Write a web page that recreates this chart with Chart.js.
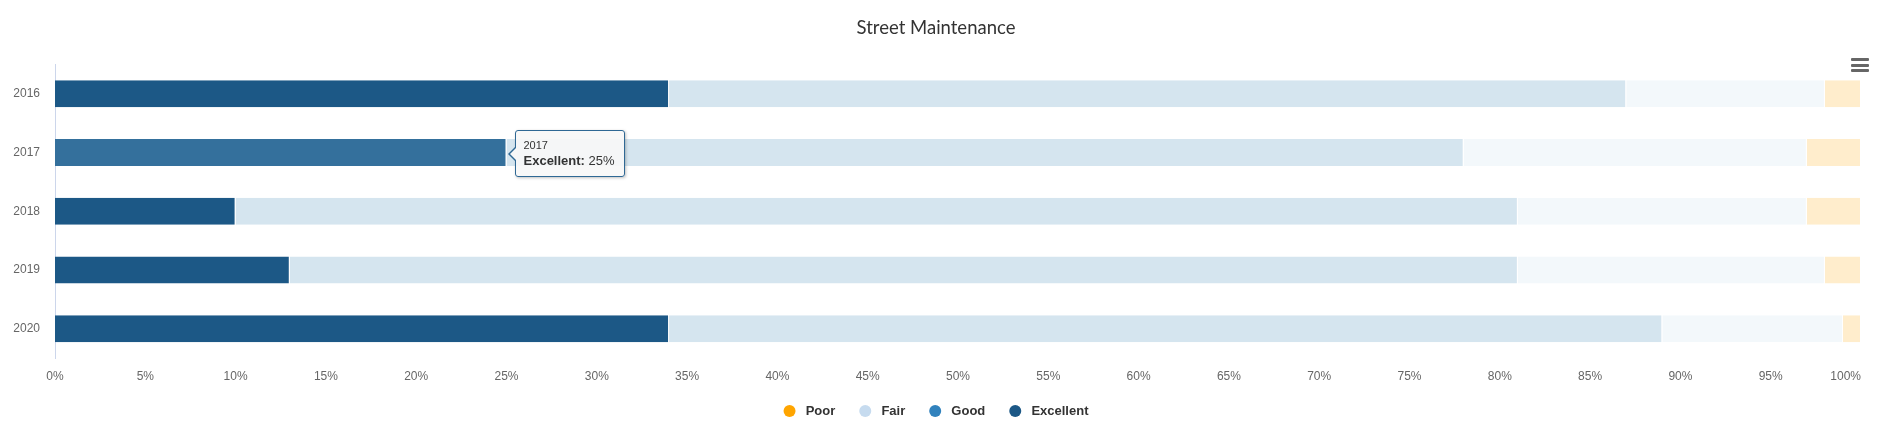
<!DOCTYPE html>
<html>
<head>
<meta charset="utf-8">
<script src="https://cdn.jsdelivr.net/npm/chart.js@4/dist/chart.umd.min.js"></script>
<style>
  body { margin: 0; background: #fff; }
  #wrap { position: relative; width: 1884px; height: 444px; }
  #menu { position: absolute; left: 1851px; top: 58px; width: 18px; }
  #menu span { display: block; height: 3px; margin-bottom: 2.6px; background: #666; border-radius: 1px; }
  #tip {
    position: absolute; box-sizing: border-box; width: 110px; height: 47px;
    background: rgba(247,247,247,0.92); border: 1px solid #2f6894; border-radius: 3px;
    box-shadow: 1px 1px 3px rgba(0,0,0,0.25);
    font-family: "Liberation Sans", Arial, sans-serif; color: #333; padding: 8px 0 0 8px;
  }
  #tip .t { font-size: 11px; line-height: 13px; }
  #tip .b { font-size: 13px; line-height: 18px; }
  #tip:before, #tip:after { content: ""; position: absolute; top: 50%; border-style: solid; }
  #tip:before { left: -8px; margin-top: -8px; border-width: 8px 8px 8px 0; border-color: transparent #2f6894 transparent transparent; }
  #tip:after { left: -6px; margin-top: -7px; border-width: 7px 7px 7px 0; border-color: transparent #f7f7f7 transparent transparent; }
</style>
</head>
<body>
<div id="wrap">
  <canvas id="chart" width="1884" height="444"></canvas>
  <div id="menu"><span></span><span></span><span></span></div>
  <div id="tip"><div class="t">2017</div><div class="b"><b>Excellent:</b> 25%</div></div>
</div>
<script>
// --- данные ---
const years = ['2016', '2017', '2018', '2019', '2020'];
const excellent = [34, 25, 10, 13, 34];
const good = [53, 53, 71, 68, 55];
const fair = [11, 19, 16, 17, 10];
const poor = [2, 3, 3, 2, 1];
const xTicks = [0, 5, 10, 15, 20, 25, 30, 35, 40, 45, 50, 55, 60, 65, 70, 75, 80, 85, 90, 95, 100];

// legend colours (full) vs bar colours (others are dimmed while Excellent is hovered)
const legendColors = { Excellent: '#1c5886', Good: '#3182bd', Fair: '#c6dbef', Poor: '#ffa500' };
const hovered = 1; // 2017 bar under the mouse

// --- tooltip position from the bar element ---
const tipPlugin = {
    id: 'tipPos',
    beforeDraw(chart) {
        // last x label ("100%") is pulled inside the plot, right aligned
        const items = chart.scales.x.getLabelItems();
        const last = items[items.length - 1];
        if (last) {
            last.options.textAlign = 'right';
            last.options.translation[0] = chart.chartArea.right;
        }
    },
    afterDraw(chart) {
        const el = chart.getDatasetMeta(0).data[hovered];
        const tip = document.getElementById('tip');
        tip.style.left = (el.x + 8) + 'px';
        tip.style.top = (el.y - 22.5) + 'px';
    }
};

const tickFont = { family: '"Liberation Sans", Arial, sans-serif', size: 12 };

const ctx = document.getElementById('chart').getContext('2d');
new Chart(ctx, {
    type: 'bar',
    data: {
        labels: years,
        datasets: [
            { label: 'Excellent', data: excellent, backgroundColor: excellent.map((v, i) => i === hovered ? '#34709c' : '#1c5886') },
            { label: 'Good', data: good, backgroundColor: '#d5e5ef' },
            { label: 'Fair', data: fair, backgroundColor: '#f3f8fb' },
            { label: 'Poor', data: poor, backgroundColor: '#ffedcc' }
        ]
    },
    options: {
        indexAxis: 'y',
        responsive: false,
        animation: false,
        events: [],
        datasets: {
            bar: {
                categoryPercentage: 0.46,
                barPercentage: 1,
                borderColor: '#ffffff',
                borderWidth: { top: 0, bottom: 0, left: 0, right: 1 },
                borderSkipped: false
            }
        },
        layout: { padding: { left: 11, right: 23, top: 16.5, bottom: 16.5 } },
        scales: {
            x: {
                stacked: true,
                min: 0,
                max: 100,
                afterBuildTicks: scale => { scale.ticks = xTicks.map(v => ({ value: v })); },
                afterFit: scale => { scale.height = 22.5; scale.paddingRight = 0; scale.paddingLeft = 0; },
                grid: { display: false, drawTicks: false },
                border: { display: false },
                ticks: { padding: 11, color: '#666', font: tickFont, callback: v => v + '%' }
            },
            y: {
                stacked: true,
                afterFit: scale => { scale.width = 44; },
                grid: { display: false, drawTicks: false },
                border: { display: true, color: '#ccd6eb', width: 1 },
                ticks: { padding: 15, color: '#666', font: tickFont }
            }
        },
        plugins: {
            title: {
                display: true,
                text: 'Street Maintenance',
                color: '#333',
                font: { family: 'Lato, sans-serif', size: 18.5, weight: 'normal' },
                padding: { top: 0, bottom: 25.8 }
            },
            legend: {
                position: 'bottom',
                reverse: true,
                labels: {
                    usePointStyle: true,
                    pointStyle: 'circle',
                    pointStyleWidth: 12,
                    boxHeight: 8.49,
                    padding: 24,
                    color: '#333',
                    font: { family: '"Liberation Sans", Arial, sans-serif', size: 13, weight: 'bold' },
                    generateLabels: chart => Chart.defaults.plugins.legend.labels.generateLabels(chart).map(l => {
                        const c = legendColors[l.text];
                        return Object.assign(l, { text: ' ' + l.text, fillStyle: c, strokeStyle: c, lineWidth: 0 });
                    })
                }
            },
            tooltip: { enabled: false }
        }
    },
    plugins: [tipPlugin]
});
</script>
</body>
</html>
